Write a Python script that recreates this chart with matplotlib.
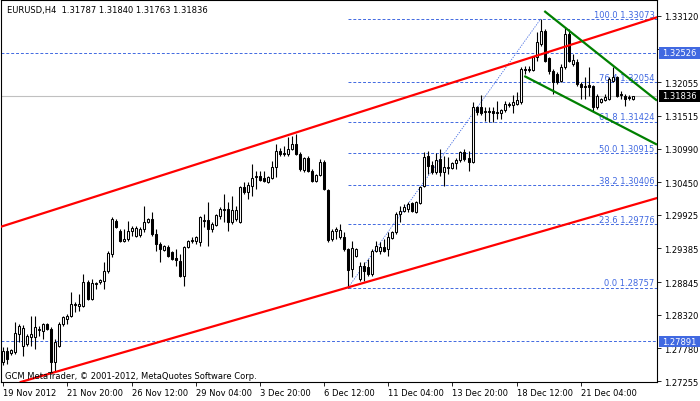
import matplotlib
matplotlib.use("Agg")
import matplotlib.pyplot as plt
from matplotlib.patches import Rectangle
import numpy as np

# EURUSD H4 bars, 19 Nov 2012 .. 21 Dec 2012
opens = [1.2756, 1.2774, 1.2770, 1.2772, 1.2801, 1.2782, 1.2785, 1.2796, 1.2796, 1.2807,
         1.2806, 1.2817, 1.2809, 1.2756, 1.2782, 1.2817, 1.2825, 1.2830, 1.2848, 1.2846,
         1.2846, 1.2885, 1.2857, 1.2881, 1.2885, 1.2886, 1.2902, 1.2930, 1.2983, 1.2966,
         1.2950, 1.2954, 1.2966, 1.2958, 1.2960, 1.2970, 1.2981, 1.2986, 1.2962, 1.2946,
         1.2936, 1.2941, 1.2933, 1.2923, 1.2918, 1.2894, 1.2941, 1.2950, 1.2950, 1.2949,
         1.2984, 1.2984, 1.2970, 1.2976, 1.2991, 1.3000, 1.3002, 1.2981, 1.2986, 1.2981,
         1.3037, 1.3029, 1.3039, 1.3053, 1.3055, 1.3052, 1.3045, 1.3052, 1.3069, 1.3095,
         1.3090, 1.3090, 1.3098, 1.3106, 1.3090, 1.3065, 1.3084, 1.3063, 1.3047, 1.3056,
         1.3077, 1.3032, 1.2954, 1.2966, 1.2957, 1.2957, 1.2938, 1.2905, 1.2926, 1.2889,
         1.2910, 1.2909, 1.2897, 1.2934, 1.2934, 1.2941, 1.2938, 1.2955, 1.2965, 1.2994,
         1.2999, 1.3002, 1.3011, 1.2997, 1.3011, 1.3039, 1.3087, 1.3073, 1.3061, 1.3082,
         1.3061, 1.3068, 1.3068, 1.3075, 1.3081, 1.3094, 1.3084, 1.3077, 1.3166, 1.3166,
         1.3158, 1.3159, 1.3159, 1.3158, 1.3156, 1.3161, 1.3169, 1.3169, 1.3171, 1.3174,
         1.3227, 1.3225, 1.3225, 1.3246, 1.3267, 1.3288, 1.3245, 1.3224, 1.3219, 1.3208,
         1.3230, 1.3283, 1.3235, 1.3238, 1.3203, 1.3200, 1.3201, 1.3200, 1.3166, 1.3174,
         1.3177, 1.3179, 1.3208, 1.3214, 1.3187, 1.3183, 1.3182, 1.31787]
highs = [1.2780, 1.2780, 1.2777, 1.2820, 1.2817, 1.2815, 1.2801, 1.2830, 1.2830, 1.2814,
         1.2819, 1.2819, 1.2812, 1.2793, 1.2820, 1.2830, 1.2833, 1.2869, 1.2852, 1.2865,
         1.2897, 1.2888, 1.2889, 1.2885, 1.2889, 1.2917, 1.2934, 1.2989, 1.2986, 1.2970,
         1.2970, 1.2983, 1.2975, 1.2975, 1.2973, 1.3007, 1.2987, 1.2997, 1.2970, 1.2949,
         1.2944, 1.2944, 1.2934, 1.2938, 1.2930, 1.2943, 1.2952, 1.2957, 1.2958, 1.2991,
         1.2994, 1.3013, 1.2981, 1.2994, 1.3005, 1.3026, 1.3013, 1.3023, 1.3007, 1.3039,
         1.3045, 1.3045, 1.3074, 1.3063, 1.3063, 1.3063, 1.3055, 1.3079, 1.3106, 1.3100,
         1.3103, 1.3118, 1.3119, 1.3122, 1.3094, 1.3085, 1.3087, 1.3066, 1.3058, 1.3082,
         1.3081, 1.3034, 1.2970, 1.2973, 1.2978, 1.2965, 1.2939, 1.2950, 1.2939, 1.2917,
         1.2917, 1.2922, 1.2938, 1.2950, 1.2949, 1.2954, 1.2965, 1.2966, 1.2997, 1.3007,
         1.3010, 1.3013, 1.3013, 1.3015, 1.3039, 1.3094, 1.3095, 1.3079, 1.3092, 1.3098,
         1.3087, 1.3085, 1.3077, 1.3084, 1.3095, 1.3098, 1.3095, 1.3174, 1.3167, 1.3185,
         1.3166, 1.3166, 1.3166, 1.3175, 1.3163, 1.3175, 1.3174, 1.3185, 1.3190, 1.3230,
         1.3232, 1.3232, 1.3248, 1.3286, 1.33073, 1.3291, 1.3246, 1.3227, 1.3222, 1.3235,
         1.3294, 1.3291, 1.3251, 1.3243, 1.3206, 1.3214, 1.3230, 1.3201, 1.3187, 1.3180,
         1.3187, 1.3214, 1.3230, 1.3215, 1.3192, 1.3187, 1.3185, 1.31840]
lows = [1.2751, 1.2753, 1.2767, 1.2769, 1.2788, 1.2766, 1.2782, 1.2782, 1.2777, 1.2798,
        1.2793, 1.2807, 1.2737, 1.2742, 1.2780, 1.2814, 1.2817, 1.2828, 1.2836, 1.2838,
        1.2844, 1.2856, 1.2856, 1.2873, 1.2881, 1.2873, 1.2899, 1.2925, 1.2971, 1.2949,
        1.2949, 1.2950, 1.2958, 1.2957, 1.2957, 1.2965, 1.2979, 1.2958, 1.2934, 1.2917,
        1.2934, 1.2925, 1.2920, 1.2910, 1.2893, 1.2878, 1.2939, 1.2947, 1.2946, 1.2943,
        1.2973, 1.2943, 1.2965, 1.2975, 1.2986, 1.2981, 1.2966, 1.2978, 1.2983, 1.2979,
        1.3026, 1.3018, 1.3023, 1.3034, 1.3047, 1.3045, 1.3044, 1.3050, 1.3053, 1.3087,
        1.3087, 1.3087, 1.3097, 1.3089, 1.3063, 1.3061, 1.3061, 1.3045, 1.3045, 1.3055,
        1.3032, 1.2949, 1.2950, 1.2954, 1.2954, 1.2934, 1.28757, 1.2893, 1.2925, 1.2886,
        1.2886, 1.2894, 1.2894, 1.2933, 1.2930, 1.2933, 1.2926, 1.2954, 1.2962, 1.2981,
        1.2997, 1.2997, 1.2997, 1.2995, 1.3010, 1.3037, 1.3058, 1.3058, 1.3058, 1.3055,
        1.3039, 1.3058, 1.3066, 1.3066, 1.3077, 1.3079, 1.3063, 1.3076, 1.3153, 1.3153,
        1.3143, 1.3141, 1.3141, 1.3146, 1.3146, 1.3158, 1.3166, 1.3156, 1.3169, 1.3171,
        1.3219, 1.3222, 1.3224, 1.3240, 1.3264, 1.3238, 1.3219, 1.3187, 1.3203, 1.3206,
        1.3227, 1.3238, 1.3232, 1.3200, 1.3179, 1.3179, 1.3183, 1.3159, 1.3163, 1.3172,
        1.3176, 1.3177, 1.3206, 1.3182, 1.3179, 1.3167, 1.3177, 1.31763]
closes = [1.2774, 1.2761, 1.2775, 1.2803, 1.2814, 1.2811, 1.2798, 1.2801, 1.2812, 1.2809,
          1.2817, 1.2809, 1.2756, 1.2788, 1.2817, 1.2828, 1.2830, 1.2849, 1.2849, 1.2849,
          1.2885, 1.2857, 1.2883, 1.2883, 1.2888, 1.2902, 1.2931, 1.2986, 1.2973, 1.2950,
          1.2954, 1.2966, 1.2971, 1.2971, 1.2970, 1.2981, 1.2986, 1.2962, 1.2946, 1.2938,
          1.2943, 1.2926, 1.2922, 1.2920, 1.2894, 1.2941, 1.2950, 1.2952, 1.2957, 1.2989,
          1.2983, 1.2970, 1.2978, 1.2992, 1.3002, 1.3002, 1.2981, 1.3000, 1.3000, 1.3037,
          1.3029, 1.3040, 1.3052, 1.3055, 1.3048, 1.3047, 1.3053, 1.3069, 1.3095, 1.3090,
          1.3092, 1.3098, 1.3106, 1.3090, 1.3066, 1.3084, 1.3063, 1.3047, 1.3056, 1.3077,
          1.3034, 1.2952, 1.2966, 1.2970, 1.2968, 1.2938, 1.2904, 1.2939, 1.2938, 1.2910,
          1.2902, 1.2897, 1.2934, 1.2943, 1.2941, 1.2934, 1.2957, 1.2965, 1.2994, 1.2999,
          1.3005, 1.3010, 1.2999, 1.3013, 1.3037, 1.3085, 1.3071, 1.3061, 1.3081, 1.3061,
          1.3069, 1.3069, 1.3076, 1.3081, 1.3094, 1.3082, 1.3077, 1.3166, 1.3158, 1.3156,
          1.3159, 1.3158, 1.3156, 1.3156, 1.3161, 1.3171, 1.3171, 1.3174, 1.3177, 1.3227,
          1.3225, 1.3227, 1.3246, 1.3270, 1.3288, 1.3240, 1.3224, 1.3206, 1.3206, 1.3230,
          1.3283, 1.3240, 1.3241, 1.3203, 1.3198, 1.3198, 1.3198, 1.3166, 1.3183, 1.3179,
          1.3182, 1.3211, 1.3214, 1.3183, 1.3185, 1.3179, 1.3180, 1.31836]

time_labels = ["19 Nov 2012", "21 Nov 20:00", "26 Nov 12:00", "29 Nov 04:00", "3 Dec 20:00",
               "6 Dec 12:00", "11 Dec 04:00", "13 Dec 20:00", "18 Dec 12:00", "21 Dec 04:00"]
label_every = 16  # bars between time labels

price_ticks = [1.27255, 1.27780, 1.28320, 1.28845, 1.29385, 1.29925,
               1.30450, 1.30990, 1.31515, 1.32055, 1.32585, 1.33120]

# fibonacci retracement: anchors (bar, price) and levels
fib_start = (86, 1.28757)
fib_end = (134, 1.33073)
fib_pct = [0.0, 23.6, 38.2, 50.0, 61.8, 76.4, 100.0]
fib_price = [1.28757, 1.29776, 1.30406, 1.30915, 1.31424, 1.32054, 1.33073]

# trend objects: (bar, price) anchor pairs
channel_upper = [(0, 1.29746), (157, 1.32976)]
channel_lower = [(0, 1.27158), (157, 1.30083)]
wedge_upper = [(134.9, 1.33200), (157, 1.32068)]
wedge_lower = [(129.9, 1.32156), (157, 1.31253)]

hlines_blue = [1.32526, 1.27891]
last_price = 1.31836

BLUE = "#4169E1"

fig = plt.figure(figsize=(7.0, 4.02), dpi=100)
ax = fig.add_axes([1 / 700, 19 / 402, 656 / 700, 382 / 402])
x_lo, x_hi = -0.57, 163.0
ax.set_xlim(x_lo, x_hi)
ax.set_ylim(1.27239, 1.33377)

x = np.arange(len(opens))
o, h, l, c = (np.array(v) for v in (opens, highs, lows, closes))
up = c >= o
bot = np.minimum(o, c)
hgt = np.abs(c - o)

ax.vlines(x, l, h, color="black", lw=0.8, zorder=3)
ax.bar(x[up], hgt[up], bottom=bot[up], width=0.5, facecolor="white",
       edgecolor="black", lw=0.75, zorder=4)
ax.bar(x[~up], hgt[~up], bottom=bot[~up], width=0.5, facecolor="black",
       edgecolor="black", lw=0.75, zorder=4)
doji = hgt < 0.00005
ax.hlines(c[doji], x[doji] - 0.4, x[doji] + 0.4, color="black", lw=0.8, zorder=4)

# horizontal lines
ax.axhline(last_price, color="#C0C0C0", lw=0.8, zorder=1)
for p in hlines_blue:
    ax.axhline(p, color=BLUE, lw=0.7, dashes=(3, 2), zorder=2)

# fibonacci
ax.hlines(fib_price, fib_start[0], x_hi, color=BLUE, lw=0.7, linestyles=(0, (3, 2)), zorder=2)
ax.plot([fib_start[0], fib_end[0]], [fib_start[1], fib_end[1]], color=BLUE, lw=0.6,
        ls=(0, (1.5, 1.5)), zorder=2)
for pct, p in zip(fib_pct, fib_price):
    ax.text(x_hi - 0.6, p + 0.00003, f"{pct:.1f} {p:.5f}", ha="right", va="bottom",
            fontsize=6, color=BLUE, zorder=2)

# channel (infinite both ways)
for (p1, p2) in (channel_upper, channel_lower):
    ax.axline(p1, p2, color="#FF0000", lw=1.6, zorder=5)

# wedge rays to the right
for (p1, p2) in (wedge_upper, wedge_lower):
    slope = (p2[1] - p1[1]) / (p2[0] - p1[0])
    ax.plot([p1[0], x_hi], [p1[1], p1[1] + slope * (x_hi - p1[0])],
            color="#008000", lw=1.6, zorder=5, solid_capstyle="butt")

# axes styling
for s in ax.spines.values():
    s.set_color("black")
    s.set_linewidth(0.8)
ax.yaxis.tick_right()
ax.set_yticks(price_ticks)
ax.set_yticklabels([f"{p:.5f}" for p in price_ticks])
ax.set_xticks(np.arange(len(time_labels)) * label_every)
ax.set_xticklabels(time_labels, ha="left")
ax.tick_params(axis="both", direction="out", length=3, width=0.6, labelsize=6, pad=1.5)
ax.tick_params(axis="y", pad=2)

# price boxes on the axis, covering the tick label underneath
half_h = 0.00092
for p, fc in [(1.32526, BLUE), (1.27891, BLUE), (last_price, "black")]:
    ax.add_patch(Rectangle((1.003, p - half_h), 0.07, 2 * half_h, transform=ax.get_yaxis_transform(),
                           facecolor=fc, edgecolor="none", zorder=9, clip_on=False))
    ax.text(1.008, p, f"{p:.5f}", transform=ax.get_yaxis_transform(), ha="left", va="center",
            fontsize=6, color="white", zorder=10, clip_on=False)

fig.text(7 / 700, 1 - 10 / 402, "EURUSD,H4  1.31787 1.31840 1.31763 1.31836",
         fontsize=6, va="center", ha="left")
fig.text(5 / 700, 1 - 377 / 402, "GCM MetaTrader, \u00a9 2001-2012, MetaQuotes Software Corp.",
         fontsize=6, va="center", ha="left", zorder=10)

fig.savefig("out.png", dpi=100)
